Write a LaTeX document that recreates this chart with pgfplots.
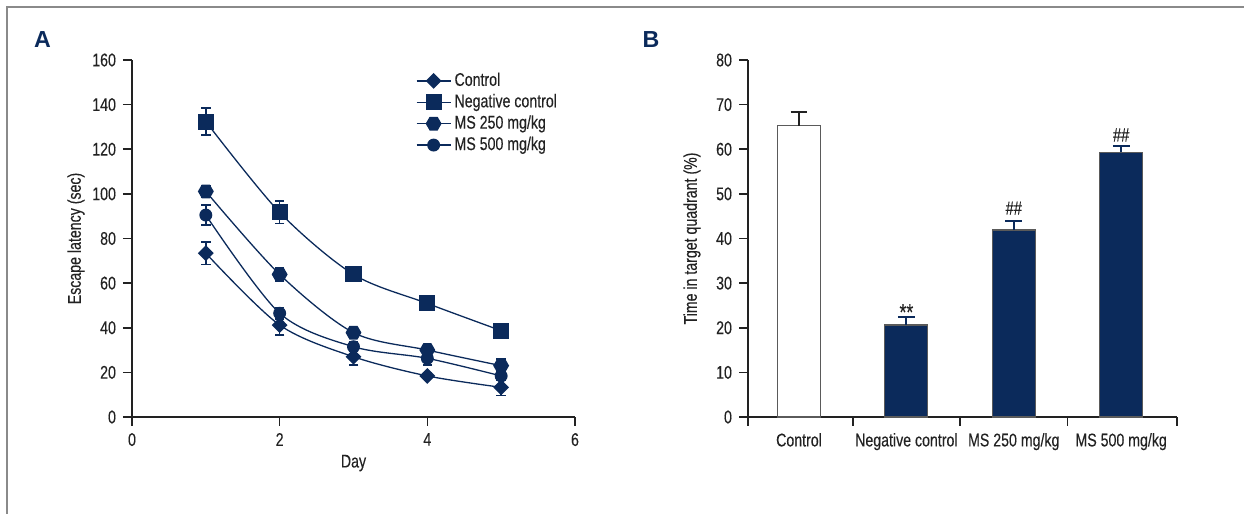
\documentclass[border=0pt]{standalone}
\usepackage{fontspec}
\setmainfont[FakeStretch=0.77, FakeBold=0.25]{Liberation Sans}
\newfontfamily\letterfont{Liberation Sans}
\usepackage{pgfplots}
\pgfplotsset{compat=1.18}
\definecolor{navy}{HTML}{0B2A5B}
\definecolor{axisgray}{HTML}{222222}
\definecolor{framegray}{HTML}{8A8A8A}
\definecolor{bargray}{HTML}{5A5A5A}
\pgfdeclareplotmark{hexagon*}{%
  \pgfpathmoveto{\pgfqpointpolar{0}{\pgfplotmarksize}}%
  \pgfpathlineto{\pgfqpointpolar{60}{\pgfplotmarksize}}%
  \pgfpathlineto{\pgfqpointpolar{120}{\pgfplotmarksize}}%
  \pgfpathlineto{\pgfqpointpolar{180}{\pgfplotmarksize}}%
  \pgfpathlineto{\pgfqpointpolar{240}{\pgfplotmarksize}}%
  \pgfpathlineto{\pgfqpointpolar{300}{\pgfplotmarksize}}%
  \pgfpathclose
  \pgfusepathqfillstroke}
\pgfplotsset{
  common/.style={
    scale only axis,
    height=178.5pt,
    axis lines=left,
    axis line style={-, line width=0.8pt, color=axisgray},
    tick align=outside,
    major tick length=4.5pt,
    minor tick length=4.5pt,
    tick style={line width=0.8pt, color=axisgray},
    tick label style={font=\fontsize{9.2}{11}\selectfont, text=axisgray},
    label style={font=\fontsize{9.2}{11}\selectfont, text=axisgray},
    /pgf/number format/assume math mode=true,
    clip=false,
  }
}
\begin{document}
\begin{tikzpicture}
\useasboundingbox (0,0) rectangle (622pt,257pt);
\draw[framegray, line width=0.8pt] (3.5pt,0) -- (3.5pt,253.5pt) -- (622pt,253.5pt);
\node[font=\letterfont\bfseries\fontsize{11.6}{14}\selectfont, text=navy] at (21.25pt,237pt) {A};
\node[font=\letterfont\bfseries\fontsize{11.6}{14}\selectfont, text=navy] at (325.5pt,237pt) {B};

% Panel A
\begin{axis}[common,
  at={(66pt,48.5pt)}, anchor=south west,
  width=221.5pt,
  xmin=0, xmax=6, ymin=0, ymax=160,
  xtick={0,2,4,6}, ytick={0,20,...,160},
  xlabel={Day}, ylabel={Escape latency (sec)},
  xlabel style={at={(axis description cs:0.5,-0.129)}, anchor=center},
  ylabel style={at={(axis description cs:-0.1264,0.5)}, anchor=center},
  every axis plot/.append style={navy, line width=0.65pt, smooth,
    error bars/y dir=both, error bars/y explicit,
    error bars/error bar style={line width=0.8pt, navy},
    error bars/error mark options={rotate=90, mark size=2.4pt, line width=0.8pt, navy}},
  legend style={at={(axis cs:3.84,155.4)}, anchor=north west, draw=none, fill=none,
    inner sep=0pt, row sep=0.5pt,
    nodes={inner xsep=1.6pt, inner ysep=0.6pt, text height=7pt, text depth=2pt, font=\fontsize{9.2}{11}\selectfont, text=axisgray}},
  legend cell align=left,
]
\addplot[mark=diamond*, mark size=3.5pt, mark options={xscale=1.33, fill=navy, draw=navy}]
  coordinates {(1,73.4) +- (0,5) (2,41.2) +- (0,4.5) (3,27.0) +- (0,3.7) (4,18.4) +- (0,1.2) (5,13.3) +- (0,3.7)};
\addlegendentry{Control}
\addplot[mark=square*, mark size=3.7pt, mark options={fill=navy, draw=navy}]
  coordinates {(1,132.4) +- (0,6) (2,91.7) +- (0,5) (3,63.9) +- (0,1.2) (4,50.9) +- (0,1.2) (5,38.7) +- (0,1.2)};
\addlegendentry{Negative control}
\addplot[mark=hexagon*, mark size=3.6pt, mark options={fill=navy, draw=navy}]
  coordinates {(1,101.1) +- (0,2.5) (2,63.9) +- (0,3) (3,37.8) +- (0,2) (4,30.0) +- (0,2.5) (5,23.0) +- (0,3)};
\addlegendentry{MS 250 mg/kg}
\addplot[mark=*, mark size=2.9pt, mark options={fill=navy, draw=navy}]
  coordinates {(1,90.5) +- (0,4.5) (2,46.5) +- (0,2.5) (3,31.5) +- (0,2) (4,26.3) +- (0,3) (5,18.4) +- (0,2)};
\addlegendentry{MS 500 mg/kg}
\end{axis}

% Panel B
\begin{axis}[common,
  at={(374pt,48.5pt)}, anchor=south west,
  width=214.5pt,
  xmin=-0.475, xmax=3.52, ymin=0, ymax=80,
  ytick={0,10,...,80},
  xtick={0,1,2,3},
  xticklabels={Control, Negative control, MS 250 mg/kg, MS 500 mg/kg},
  minor xtick={-0.475,0.5,1.5,2.5,3.52},
  every major x tick/.append style={draw=none},
  ylabel={Time in target quadrant (\%)},
  ylabel style={at={(axis description cs:-0.1305,0.5)}, anchor=center},
  ybar, bar width=21.5pt, bar shift=0pt,
]
\addplot[draw=bargray, line width=0.6pt, fill=white,
  error bars/y dir=plus, error bars/y explicit,
  error bars/error bar style={line width=1pt, axisgray},
  error bars/error mark options={rotate=90, mark size=4.2pt, line width=1pt, axisgray}]
  coordinates {(0,65.3) +- (0,3.1)};
\addplot[draw=bargray, line width=0.6pt, fill=navy,
  error bars/y dir=plus, error bars/y explicit,
  error bars/error bar style={line width=1pt, navy},
  error bars/error mark options={rotate=90, mark size=4.2pt, line width=1pt, navy}]
  coordinates {(1,20.6) +- (0,1.7) (2,41.9) +- (0,2.1) (3,59.3) +- (0,1.4)};
\node[font=\fontsize{11.5}{13}\selectfont, text=axisgray] at (axis cs:1,23.5) {**};
\node[font=\fontsize{9.5}{11}\selectfont, text=axisgray] at (axis cs:2,46.8) {\#\#};
\node[font=\fontsize{9.5}{11}\selectfont, text=axisgray] at (axis cs:3,63.2) {\#\#};
\end{axis}
\end{tikzpicture}
\end{document}
